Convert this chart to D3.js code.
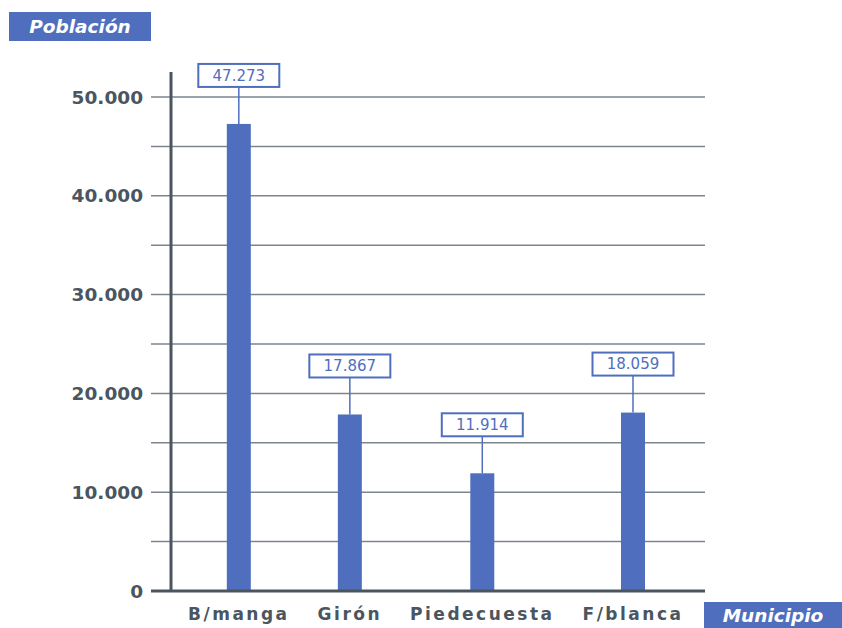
<!DOCTYPE html>
<html lang="es">
<head>
  <meta charset="UTF-8">
  <title>Población por municipio</title>
  <style>
    body { margin: 0; background: #fff; }
    svg { display: block; font-family: 'DejaVu Sans', sans-serif; }
  </style>
</head>
<body>
  <div id="chart"></div>
  <script src="https://d3js.org/d3.v7.min.js"></script>
  <script>
    const width = 842
    const height = 628

    // datos
    const municipios = ['B/manga', 'Girón', 'Piedecuesta', 'F/blanca']
    const poblacion = [47273, 17867, 11914, 18059]
    const ticksY = [0, 10000, 20000, 30000, 40000, 50000]
    const gridY = [5000, 10000, 15000, 20000, 25000, 30000, 35000, 40000, 45000, 50000]

    const blue = '#4f6fbe'
    const axisColor = '#4a5560'
    const gridColor = '#7b858f'

    const fmt = d3.formatLocale({ decimal: ',', thousands: '.', grouping: [3], currency: ['$', ''] }).format(',d')

    const svg = d3.select('#chart').append('svg')
      .attr('width', width)
      .attr('height', height)

    const y = d3.scaleLinear().domain([0, 50000]).range([591, 97])

    // lineas de rejilla
    svg.append('g').selectAll('line')
      .data(gridY)
      .join('line')
      .attr('x1', 151).attr('x2', 705)
      .attr('y1', d => y(d)).attr('y2', d => y(d))
      .attr('stroke', gridColor)
      .attr('stroke-width', 1.5)

    // etiquetas eje y
    svg.append('g').selectAll('text')
      .data(ticksY)
      .join('text')
      .attr('x', 143)
      .attr('y', d => y(d))
      .attr('dy', '0.36em')
      .attr('text-anchor', 'end')
      .attr('fill', axisColor)
      .attr('font-weight', 'bold')
      .attr('font-size', 18.5)
      .text(d => fmt(d))

    // etiquetas de categoría, colocadas una tras otra con el mismo hueco
    const catG = svg.append('g')
    const catText = catG.selectAll('text')
      .data(municipios)
      .join('text')
      .attr('y', 620)
      .attr('fill', axisColor)
      .attr('font-weight', 'bold')
      .attr('font-size', 17)
      .attr('letter-spacing', 2.5)
      .text(d => d)

    const centers = []
    let cursor = 188
    catText.each(function () {
      const w = this.getComputedTextLength()
      d3.select(this).attr('x', cursor)
      centers.push(cursor + w / 2)
      cursor += w + 28
    })

    const x = d3.scaleOrdinal().domain(municipios).range(centers)
    const barW = 24
    const data = municipios.map((m, i) => ({ m, v: poblacion[i] }))

    // barras
    svg.append('g').selectAll('rect')
      .data(data)
      .join('rect')
      .attr('x', d => x(d.m) - barW / 2)
      .attr('y', d => y(d.v))
      .attr('width', barW)
      .attr('height', d => y(0) - y(d.v))
      .attr('fill', blue)

    // cajas con valores
    const boxW = 81
    const boxH = 23
    const gap = 37
    const lab = svg.append('g').selectAll('g')
      .data(data)
      .join('g')

    lab.append('line')
      .attr('x1', d => x(d.m)).attr('x2', d => x(d.m))
      .attr('y1', d => y(d.v) - gap).attr('y2', d => y(d.v))
      .attr('stroke', blue)
      .attr('stroke-width', 1.5)

    lab.append('rect')
      .attr('x', d => x(d.m) - boxW / 2)
      .attr('y', d => y(d.v) - gap - boxH)
      .attr('width', boxW)
      .attr('height', boxH)
      .attr('fill', '#fff')
      .attr('stroke', blue)
      .attr('stroke-width', 2)

    lab.append('text')
      .attr('x', d => x(d.m))
      .attr('y', d => y(d.v) - gap - boxH / 2)
      .attr('dy', '0.36em')
      .attr('text-anchor', 'middle')
      .attr('fill', blue)
      .attr('font-size', 15)
      .text(d => fmt(d.v))

    // ejes
    svg.append('line')
      .attr('x1', 171).attr('x2', 171)
      .attr('y1', 72).attr('y2', y(0))
      .attr('stroke', axisColor)
      .attr('stroke-width', 3)

    svg.append('line')
      .attr('x1', 151).attr('x2', 705)
      .attr('y1', y(0)).attr('y2', y(0))
      .attr('stroke', axisColor)
      .attr('stroke-width', 3)

    // títulos en recuadro
    function titleBox(x0, y0, w, h, txt) {
      svg.append('rect')
        .attr('x', x0).attr('y', y0)
        .attr('width', w).attr('height', h)
        .attr('fill', blue)
      svg.append('text')
        .attr('x', x0 + w / 2)
        .attr('y', y0 + h / 2)
        .attr('dy', '0.36em')
        .attr('text-anchor', 'middle')
        .attr('fill', '#fff')
        .attr('font-weight', 'bold')
        .attr('font-style', 'italic')
        .attr('font-size', 18.5)
        .text(txt)
    }
    titleBox(9, 12, 142, 29, 'Población')
    titleBox(704, 602, 138, 26, 'Municipio')
  </script>
</body>
</html>
